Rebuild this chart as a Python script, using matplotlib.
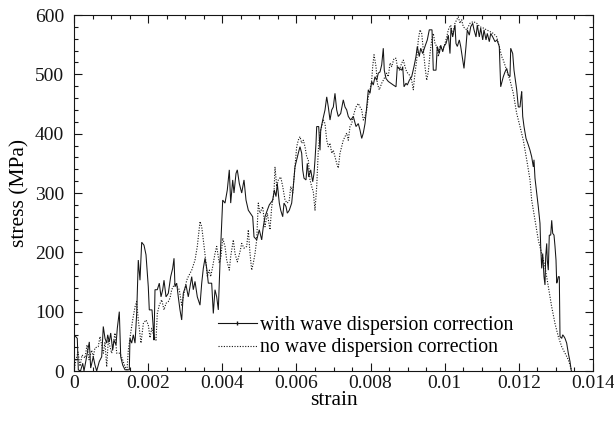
import matplotlib
matplotlib.use("Agg")
import matplotlib.pyplot as plt
from matplotlib.lines import Line2D
from matplotlib.ticker import MultipleLocator, FixedLocator, FixedFormatter

# ---- data: "with wave dispersion correction" (solid) ----
with_strain = [
    0, 0.000089, 0.000116, 0.000175, 0.000235, 0.00027, 0.000413, 0.00045, 0.00052, 0.000566,
    0.000612, 0.000682, 0.000747, 0.00079, 0.000836, 0.000882, 0.000909, 0.000952, 0.00099, 0.001044,
    0.001079, 0.001133, 0.001168, 0.001222, 0.00126, 0.001314, 0.001376, 0.001492, 0.00151, 0.001556,
    0.0016, 0.001646, 0.001691, 0.001734, 0.00178, 0.001826, 0.001888, 0.001942, 0.002004, 0.002031,
    0.002104, 0.002139, 0.002158, 0.002185, 0.002247, 0.002301, 0.002347, 0.002393, 0.002428, 0.002482,
    0.002544, 0.002608, 0.002662, 0.002698, 0.002724, 0.00277, 0.002813, 0.002859, 0.002905, 0.002948,
    0.003021, 0.003083, 0.003129, 0.003175, 0.003218, 0.003264, 0.003326, 0.003399, 0.003445, 0.003488,
    0.003534, 0.00358, 0.003623, 0.003714, 0.003758, 0.003803, 0.003849, 0.003893, 0.003938, 0.004011,
    0.004073, 0.004135, 0.004189, 0.004227, 0.004281, 0.004316, 0.00437, 0.004405, 0.004459, 0.004524,
    0.004586, 0.00464, 0.004702, 0.00482, 0.004856, 0.004928, 0.004998, 0.005063, 0.005106, 0.005152,
    0.005214, 0.005268, 0.00536, 0.005403, 0.005449, 0.005484, 0.005538, 0.005576, 0.00563, 0.005665,
    0.005719, 0.005754, 0.005808, 0.005872, 0.005916, 0.005961, 0.006007, 0.00605, 0.006096, 0.006142,
    0.006169, 0.006204, 0.006258, 0.006293, 0.006331, 0.006385, 0.006439, 0.006474, 0.006501, 0.006528,
    0.006547, 0.006601, 0.006636, 0.006655, 0.006709, 0.006771, 0.006817, 0.00686, 0.006906, 0.006952,
    0.006995, 0.00704, 0.007086, 0.007129, 0.007194, 0.007264, 0.00731, 0.007356, 0.007399, 0.007464,
    0.007534, 0.007607, 0.007669, 0.007715, 0.007761, 0.007804, 0.00785, 0.007896, 0.007939, 0.007985,
    0.00803, 0.008073, 0.008119, 0.008165, 0.008208, 0.008254, 0.0083, 0.008343, 0.00837, 0.008416,
    0.008478, 0.008543, 0.008613, 0.008686, 0.008721, 0.008775, 0.00884, 0.008867, 0.008902, 0.008956,
    0.008991, 0.009045, 0.009109, 0.009171, 0.009225, 0.00926, 0.009314, 0.009352, 0.009406, 0.009468,
    0.00953, 0.009584, 0.009657, 0.009692, 0.009765, 0.0098, 0.009854, 0.009892, 0.009946, 0.009981,
    0.010035, 0.010097, 0.010142, 0.010169, 0.010215, 0.01025, 0.010277, 0.010304, 0.01034, 0.010394,
    0.010431, 0.010485, 0.01052, 0.010574, 0.010609, 0.010663, 0.010701, 0.010755, 0.01079, 0.010844,
    0.010879, 0.010933, 0.010971, 0.011025, 0.01106, 0.011114, 0.011149, 0.011203, 0.011241, 0.011295,
    0.011357, 0.01141, 0.011472, 0.01151, 0.01158, 0.011626, 0.011672, 0.011715, 0.011761, 0.01178,
    0.011834, 0.011869, 0.011942, 0.011985, 0.012031, 0.012058, 0.012077, 0.012104, 0.012139, 0.012193,
    0.012255, 0.012301, 0.012346, 0.01239, 0.012408, 0.012435, 0.012481, 0.012524, 0.01257, 0.012589,
    0.012616, 0.012643, 0.012678, 0.012705, 0.012724, 0.012751, 0.012767, 0.012794, 0.012821, 0.012859,
    0.012886, 0.012913, 0.012948, 0.012975, 0.013002, 0.013021, 0.013037, 0.013064, 0.013091, 0.01311,
    0.013156, 0.013183, 0.013218, 0.013245, 0.01329, 0.013334, 0.013379, 0.013398, 0.013415,
]
with_stress = [
    61, 55, 2, 0, 13, 0, 49, 5, 24, 10,
    0, 16, 24, 75, 55, 47, 61, 49, 64, 35,
    52, 44, 72, 100, 24, 10, 2, 2, 55, 47,
    61, 47, 97, 187, 153, 217, 212, 196, 142, 103,
    103, 72, 52, 137, 137, 148, 125, 137, 153, 125,
    131, 159, 173, 190, 142, 148, 125, 103, 86, 131,
    145, 125, 142, 159, 137, 151, 125, 111, 148, 173,
    190, 173, 148, 148, 97, 137, 125, 103, 182, 288,
    283, 305, 339, 283, 322, 300, 333, 339, 316, 300,
    322, 288, 271, 260, 226, 221, 238, 221, 243, 260,
    271, 280, 288, 305, 294, 316, 283, 271, 260, 283,
    277, 266, 271, 283, 311, 344, 356, 367, 378, 367,
    339, 325, 322, 350, 327, 339, 319, 333, 356, 384,
    412, 412, 372, 406, 423, 440, 462, 445, 423, 440,
    445, 468, 440, 429, 434, 457, 445, 440, 429, 423,
    429, 412, 417, 406, 392, 401, 417, 445, 474, 468,
    488, 482, 496, 490, 502, 504, 516, 544, 507, 493,
    488, 485, 482, 479, 513, 510, 507, 513, 479, 485,
    482, 490, 496, 513, 530, 547, 530, 544, 535, 547,
    558, 575, 575, 507, 507, 547, 535, 549, 538, 547,
    552, 566, 535, 578, 563, 575, 583, 552, 547, 558,
    547, 524, 510, 547, 575, 566, 580, 586, 575, 563,
    583, 563, 578, 558, 575, 558, 569, 555, 569, 563,
    555, 558, 547, 479, 496, 504, 510, 499, 496, 544,
    535, 507, 474, 445, 445, 462, 471, 429, 412, 392,
    381, 372, 361, 344, 356, 325, 300, 277, 249, 210,
    173, 198, 159, 145, 193, 215, 187, 170, 229, 229,
    254, 232, 229, 210, 187, 148, 151, 159, 159, 58,
    55, 61, 58, 55, 47, 30, 16, 7, 0,
]

# ---- data: "no wave dispersion correction" (dotted) ----
no_strain = [
    0, 0.000054, 0.000108, 0.000162, 0.000216, 0.000297, 0.000351, 0.000405, 0.000477, 0.00052,
    0.000566, 0.000655, 0.000701, 0.000747, 0.00079, 0.000836, 0.000882, 0.000925, 0.001017, 0.00106,
    0.001106, 0.001152, 0.001241, 0.001295, 0.001376, 0.00143, 0.001465, 0.001529, 0.001583, 0.001646,
    0.001691, 0.001734, 0.001807, 0.00187, 0.001942, 0.002004, 0.00205, 0.002096, 0.002158, 0.002212,
    0.002247, 0.002301, 0.002366, 0.002428, 0.002482, 0.002544, 0.00259, 0.002635, 0.002724, 0.002787,
    0.00284, 0.002905, 0.002967, 0.00304, 0.003083, 0.003175, 0.003264, 0.003326, 0.003399, 0.003445,
    0.003488, 0.003561, 0.003596, 0.00365, 0.003687, 0.003741, 0.003803, 0.003849, 0.003919, 0.003965,
    0.004011, 0.004073, 0.004119, 0.004189, 0.004227, 0.004297, 0.004343, 0.004405, 0.004478, 0.004524,
    0.004586, 0.004659, 0.004702, 0.004748, 0.004793, 0.004837, 0.004883, 0.004928, 0.004971, 0.005017,
    0.00509, 0.005152, 0.005214, 0.005287, 0.005333, 0.005395, 0.005422, 0.005468, 0.005511, 0.005576,
    0.00563, 0.005692, 0.005754, 0.005808, 0.005846, 0.0059, 0.005961, 0.006007, 0.00605, 0.006096,
    0.006142, 0.006185, 0.006231, 0.006277, 0.00632, 0.006366, 0.006412, 0.006455, 0.006501, 0.006547,
    0.00659, 0.006636, 0.006682, 0.006725, 0.006771, 0.006817, 0.00686, 0.006906, 0.006952, 0.006995,
    0.00704, 0.007086, 0.007129, 0.007175, 0.007221, 0.007264, 0.00731, 0.007356, 0.007399, 0.007445,
    0.007491, 0.007553, 0.007607, 0.007669, 0.007715, 0.007761, 0.007804, 0.00785, 0.007896, 0.007939,
    0.007985, 0.00803, 0.008057, 0.008093, 0.008147, 0.008181, 0.008235, 0.0083, 0.008343, 0.008389,
    0.008435, 0.008478, 0.008524, 0.00857, 0.008632, 0.008686, 0.008721, 0.008775, 0.00884, 0.008883,
    0.008929, 0.008975, 0.009045, 0.009109, 0.009152, 0.009198, 0.009244, 0.009287, 0.009333, 0.009379,
    0.009422, 0.009468, 0.009514, 0.009557, 0.009603, 0.009649, 0.009692, 0.009738, 0.009784, 0.009827,
    0.009873, 0.009946, 0.010008, 0.010054, 0.010097, 0.010162, 0.010215, 0.010277, 0.010323, 0.010366,
    0.010412, 0.010458, 0.010501, 0.010593, 0.010682, 0.010771, 0.010863, 0.010952, 0.011041, 0.011133,
    0.011222, 0.011311, 0.011403, 0.011472, 0.011537, 0.01158, 0.011672, 0.011761, 0.01185, 0.011942,
    0.012031, 0.01212, 0.012212, 0.012301, 0.012346, 0.012435, 0.012524, 0.012616, 0.012705, 0.012794,
    0.012886, 0.012975, 0.013064, 0.013156, 0.013245, 0.013334, 0.013379, 0.013424,
]
no_stress = [
    0, 19, 32, 8, 27, 22, 44, 19, 35, 24,
    39, 41, 58, 44, 30, 49, 7, 52, 30, 47,
    64, 30, 30, 22, 7, 2, 35, 64, 86, 108,
    117, 86, 47, 80, 86, 78, 56, 72, 58, 52,
    97, 111, 120, 103, 114, 117, 123, 137, 148, 142,
    137, 111, 131, 153, 159, 170, 187, 210, 252, 243,
    221, 182, 159, 170, 159, 176, 198, 210, 182, 193,
    224, 210, 187, 170, 193, 221, 198, 184, 201, 215,
    207, 210, 238, 198, 170, 182, 198, 221, 283, 266,
    277, 243, 266, 238, 277, 300, 344, 311, 322, 327,
    311, 288, 283, 288, 311, 300, 344, 378, 389, 395,
    384, 389, 378, 361, 356, 322, 311, 302, 271, 311,
    372, 401, 412, 423, 417, 389, 378, 384, 367, 372,
    361, 350, 342, 367, 378, 389, 395, 401, 389, 412,
    417, 434, 445, 451, 445, 440, 423, 429, 440, 462,
    474, 490, 513, 533, 513, 485, 474, 485, 490, 496,
    502, 496, 519, 513, 527, 527, 513, 507, 519, 524,
    513, 504, 499, 490, 474, 502, 524, 558, 575, 569,
    541, 513, 490, 504, 535, 558, 569, 552, 547, 530,
    547, 541, 552, 563, 575, 583, 566, 586, 592, 597,
    586, 592, 580, 575, 586, 589, 586, 580, 578, 575,
    572, 569, 563, 547, 530, 524, 507, 490, 468, 434,
    412, 389, 356, 322, 288, 254, 221, 198, 176, 142,
    108, 80, 58, 41, 30, 19, 10, 0,
]

assert len(with_strain) == len(with_stress), (len(with_strain), len(with_stress))
assert len(no_strain) == len(no_stress), (len(no_strain), len(no_stress))

x_ticks = [0, 0.002, 0.004, 0.006, 0.008, 0.01, 0.012, 0.014]
x_tick_labels = ["0", "0.002", "0.004", "0.006", "0.008", "0.01", "0.012", "0.014"]
y_ticks = [0, 100, 200, 300, 400, 500, 600]
label_with = "with wave dispersion correction"
label_no = "no wave dispersion correction"

plt.rcParams['font.family'] = ['Liberation Serif', 'DejaVu Serif']

fig = plt.figure(figsize=(6.14, 4.21), dpi=100)
ax = fig.add_axes([74/614, 1 - 371/421, (593-74)/614, (371-15)/421])

ax.plot(with_strain, with_stress, color='#151515', lw=0.75, solid_joinstyle='miter')
ax.plot(no_strain, no_stress, color='#151515', lw=0.8, linestyle=(0, (1, 1.4)))

ax.set_xlim(0, 0.014)
ax.set_ylim(0, 600)
ax.xaxis.set_major_locator(FixedLocator(x_ticks))
ax.xaxis.set_major_formatter(FixedFormatter(x_tick_labels))
ax.xaxis.set_minor_locator(MultipleLocator(0.0005))
ax.yaxis.set_major_locator(FixedLocator(y_ticks))
ax.yaxis.set_minor_locator(MultipleLocator(20))

ax.tick_params(which='both', direction='in', top=True, right=True, width=0.8,
               labelsize=14, colors='#151515')
ax.tick_params(which='major', length=6)
ax.tick_params(which='minor', length=3)
ax.tick_params(axis='x', which='major', pad=3)
ax.tick_params(axis='y', which='major', pad=7)
for sp in ax.spines.values():
    sp.set_linewidth(0.8)
    sp.set_color('#151515')

ax.set_xlabel("strain", fontsize=15.5, labelpad=-1)
ax.set_ylabel("stress (MPa)", fontsize=15.5, labelpad=4)

handles = [
    Line2D([], [], color='#151515', lw=0.8, marker='|', markersize=3),
    Line2D([], [], color='#151515', lw=0.8, linestyle=(0, (1, 1.4))),
]
ax.legend(handles, [label_with, label_no], loc='lower left',
          bbox_to_anchor=(0.277, 0.038), frameon=False, fontsize=14.2,
          handlelength=2.0, handletextpad=0.15, labelspacing=0.2,
          borderpad=0, borderaxespad=0, numpoints=1)

fig.savefig("out.png", dpi=100)
